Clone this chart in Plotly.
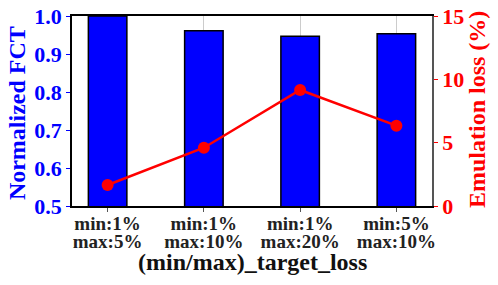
import plotly.graph_objects as go

tick_line1 = ["min:1%", "min:1%", "min:1%", "min:5%"]
tick_line2 = ["max:5%", "max:10%", "max:20%", "max:10%"]
categories = [a + " " + b for a, b in zip(tick_line1, tick_line2)]
normalized_fct = [1.0, 0.961, 0.947, 0.953]
emulation_loss = [1.66, 4.6, 9.16, 6.34]
positions = list(range(len(categories)))

FONT = "Liberation Serif"
XR = [-0.37, 3.37]

fig = go.Figure()
fig.add_trace(go.Bar(
    x=positions, y=normalized_fct, width=0.4,
    marker=dict(color="#0000ff", line=dict(color="black", width=1.5)),
    xaxis="x", yaxis="y", showlegend=False,
))
fig.add_trace(go.Scatter(
    x=positions, y=emulation_loss, mode="lines+markers",
    line=dict(color="#ff0000", width=2.5),
    marker=dict(color="#ff0000", size=12),
    xaxis="x3", yaxis="y2", showlegend=False,
))

fig.update_layout(
    template="none",
    width=498, height=285,
    margin=dict(l=72, r=66, t=16, b=79, pad=0),
    paper_bgcolor="white", plot_bgcolor="white",
    font=dict(family=FONT),
    showlegend=False,
    xaxis=dict(
        range=XR, automargin=False,
        tickmode="array", tickvals=positions, ticktext=tick_line1,
        showgrid=True, gridcolor="#cccccc", gridwidth=1, zeroline=False,
        layer="above traces",
        showline=True, linecolor="black", linewidth=1.5, mirror=True,
        ticks="outside", ticklen=4, tickcolor="#555555",
        ticklabelstandoff=-5,
        tickfont=dict(family=FONT, size=19, color="#222222", weight="bold"),
    ),
    xaxis3=dict(
        overlaying="x", anchor="y2", side="bottom", automargin=False,
        range=XR, tickmode="array", tickvals=positions, ticktext=tick_line2,
        showgrid=False, zeroline=False, showline=False,
        ticks="outside", ticklen=18, tickcolor="rgba(0,0,0,0)",
        tickfont=dict(family=FONT, size=19, color="#222222", weight="bold"),
    ),
    yaxis=dict(
        range=[0.5, 1.0], dtick=0.1, tickformat=".1f", automargin=False,
        showgrid=False, zeroline=False,
        showline=True, linecolor="black", linewidth=1.5,
        ticks="outside", ticklen=4, tickcolor="#0000ff",
        tickfont=dict(family=FONT, size=22, color="#0000ff", weight="bold"),
    ),
    yaxis2=dict(
        range=[0, 15], dtick=5, overlaying="y", side="right", anchor="x", automargin=False,
        showgrid=False, zeroline=False,
        showline=True, linecolor="#555555", linewidth=1.5,
        ticks="outside", ticklen=4, tickcolor="#ff0000",
        tickfont=dict(family=FONT, size=22, color="#ff0000", weight="bold"),
    ),
    annotations=[
        dict(text="<b>(min/max)_target_loss</b>", xref="paper", yref="paper",
             x=0.5, y=-0.295, xanchor="center", yanchor="middle", showarrow=False,
             font=dict(family=FONT, size=24, color="#111111")),
        dict(text="<b>Normalized FCT</b>", xref="paper", yref="paper", textangle=-90,
             x=-0.151, y=0.487, xanchor="center", yanchor="middle", showarrow=False,
             font=dict(family=FONT, size=24, color="#0000ff")),
        dict(text="<b>Emulation loss (%)</b>", xref="paper", yref="paper", textangle=-90,
             x=1.125, y=0.505, xanchor="center", yanchor="middle", showarrow=False,
             font=dict(family=FONT, size=24, color="#ff0000")),
    ],
)

fig.write_html("out.html", config={"displayModeBar": False},
               post_script="document.body.style.margin='0px';document.body.style.overflow='hidden';")
